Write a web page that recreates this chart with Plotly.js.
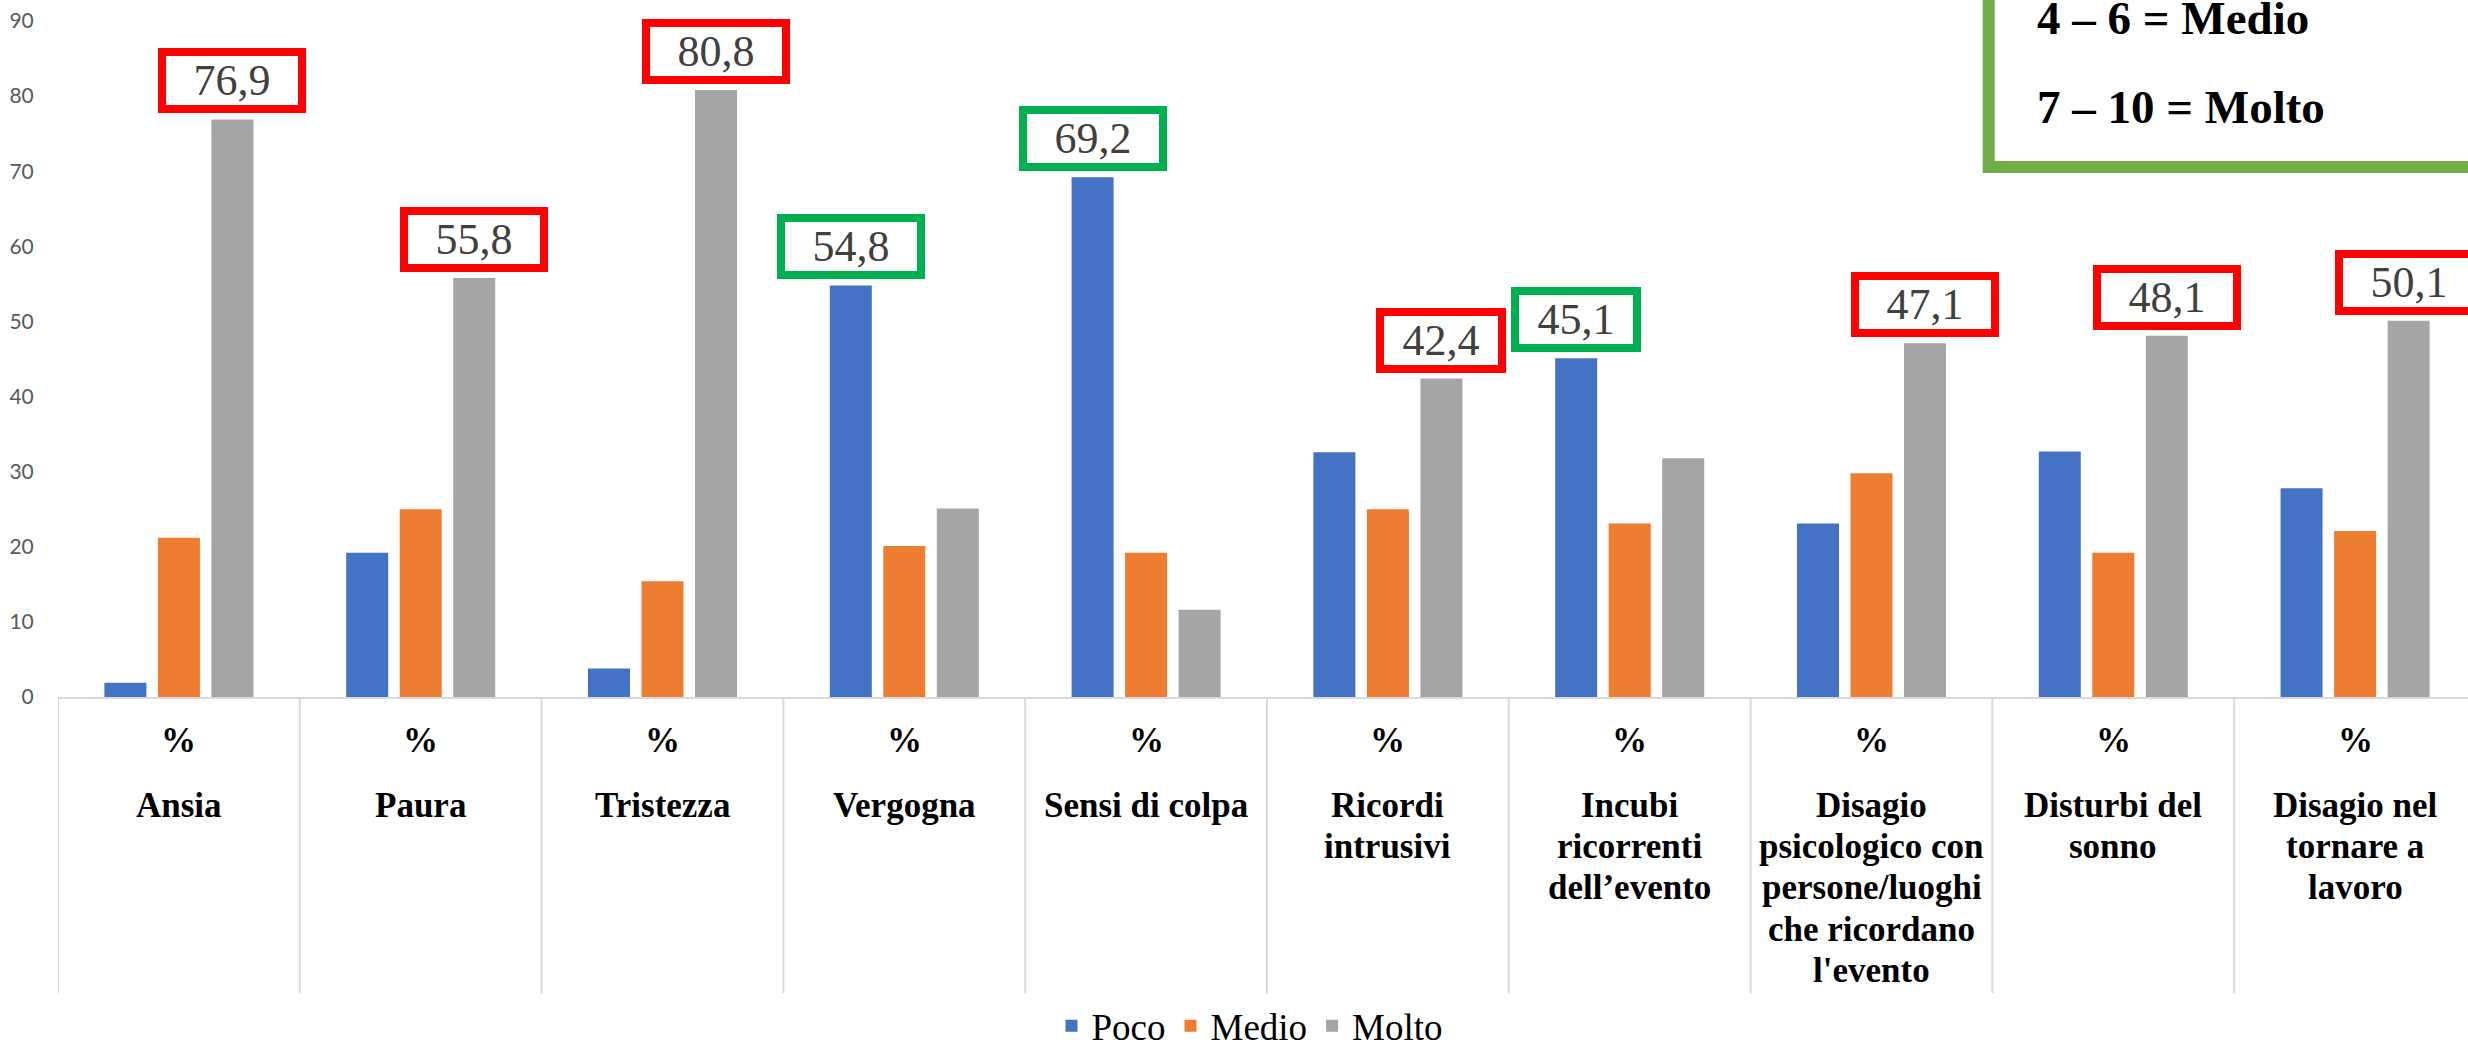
<!DOCTYPE html>
<html>
<head>
<meta charset="utf-8">
<script src="https://cdn.plot.ly/plotly-3.0.1.min.js"></script>
<style>
  html, body { margin: 0; padding: 0; background: #ffffff; }
  #chart { width: 2468px; height: 1048px; }
</style>
</head>
<body>
<div id="chart"></div>
<script>
// ---- data ----
const categories = [
  "Ansia",
  "Paura",
  "Tristezza",
  "Vergogna",
  "Sensi di colpa",
  "Ricordi<br>intrusivi",
  "Incubi<br>ricorrenti<br>dell’evento",
  "Disagio<br>psicologico con<br>persone/luoghi<br>che ricordano<br>l'evento",
  "Disturbi del<br>sonno",
  "Disagio nel<br>tornare a<br>lavoro"
];
const unitLabel = "%";
const seriesNames = ["Poco", "Medio", "Molto"];
const poco  = [1.9, 19.2, 3.8, 54.8, 69.2, 32.6, 45.1, 23.1, 32.7, 27.8];
const medio = [21.2, 25.0, 15.4, 20.1, 19.2, 25.0, 23.1, 29.8, 19.2, 22.1];
const molto = [76.9, 55.8, 80.8, 25.1, 11.6, 42.4, 31.8, 47.1, 48.1, 50.1];
const yTicks = [0, 10, 20, 30, 40, 50, 60, 70, 80, 90];
const scaleLegend = ["4 – 6 = Medio", "7 – 10 = Molto"];

// ---- styling / geometry ----
const W = 2468, H = 1048;
const L = 58, T = 21.4, B = 351, R = 0;
const plotW = W - L - R, plotH = H - T - B;
const catW = 241.8;
const xMax = -0.5 + plotW / catW;
const px2x = px => (px - L) / plotW;
const py2y = py => (H - B - py) / plotH;
const colors = ["#4472C4", "#ED7D31", "#A5A5A5"];
const boxColors = ["#00B050", "#ED7D31", "#FF0000"];
const serif = "Liberation Serif";
const series = [poco, medio, molto];
const pitch = 53.5;

const traces = series.map((vals, s) => ({
  type: "bar",
  name: seriesNames[s],
  x: categories,
  y: vals,
  marker: { color: colors[s] },
  hoverinfo: "skip"
}));

const annotations = [];
const shapes = [];

// highlighted value boxes (max series per category)
categories.forEach((c, i) => {
  let best = 0;
  for (let s = 1; s < series.length; s++) if (series[s][i] > series[best][i]) best = s;
  const v = series[best][i];
  const narrow = (i === 5 || i === 6);
  annotations.push({
    xref: "x", yref: "y", x: c, y: v,
    xshift: (best - 1) * pitch, yshift: 6,
    xanchor: "center", yanchor: "bottom",
    showarrow: false,
    text: v.toFixed(1).replace(".", ","),
    font: { family: serif, size: 44, color: "#404040" },
    bordercolor: boxColors[best], borderwidth: 8, borderpad: 0,
    bgcolor: "#ffffff",
    width: narrow ? 114 : 132, height: 49
  });
});

// category labels under the axis
categories.forEach((c, i) => {
  annotations.push({
    xref: "x", yref: "paper", x: c, y: py2y(740),
    xanchor: "center", yanchor: "middle", showarrow: false,
    text: "<b>" + unitLabel + "</b>",
    font: { family: serif, size: 35, color: "#000000" }
  });
  c.split("<br>").forEach((line, k) => {
    annotations.push({
      xref: "x", yref: "paper", x: c, y: py2y(805 + 41.3 * k),
      xanchor: "center", yanchor: "middle", showarrow: false,
      text: "<b>" + line + "</b>",
      font: { family: serif, size: 35, color: "#000000" }
    });
  });
});

// category separators
for (let i = 0; i < categories.length; i++) {
  shapes.push({
    type: "line", xref: "x", yref: "paper",
    x0: i - 0.5, x1: i - 0.5, y0: 0, y1: py2y(993),
    line: { color: "#D9D9D9", width: 2 }
  });
}

// green scale box (top right)
shapes.push({
  type: "rect", xref: "paper", yref: "paper",
  x0: px2x(1988.7), x1: px2x(2520), y0: py2y(-60), y1: py2y(167.3),
  line: { color: "#70AD47", width: 12 }, fillcolor: "rgba(0,0,0,0)"
});
const scaleCenters = [18.8, 107.8];
scaleLegend.forEach((t, k) => {
  annotations.push({
    xref: "paper", yref: "paper", x: px2x(2035), y: py2y(scaleCenters[k]),
    xanchor: "left", yanchor: "middle", showarrow: false,
    text: "<b>" + t + "</b>",
    font: { family: serif, size: 47, color: "#000000" }
  });
});

const layout = {
  width: W, height: H,
  margin: { l: L, r: R, t: T, b: B, pad: 0, autoexpand: false },
  paper_bgcolor: "#ffffff", plot_bgcolor: "#ffffff",
  barmode: "group", bargap: 0.336, bargroupgap: 0.215,
  xaxis: {
    type: "category",
    range: [-0.5, xMax],
    showticklabels: false, ticks: "",
    showgrid: false, zeroline: false,
    showline: true, linecolor: "#D9D9D9", linewidth: 2,
    fixedrange: true
  },
  yaxis: {
    range: [0, 90],
    tickmode: "array", tickvals: yTicks, ticktext: yTicks.map(String),
    ticks: "outside", ticklen: 19, tickcolor: "rgba(0,0,0,0)",
    showgrid: false, zeroline: false, showline: false,
    tickfont: { family: "Lato", size: 21, color: "#595959" },
    fixedrange: true
  },
  showlegend: true,
  legend: {
    orientation: "h",
    x: px2x(1250), xanchor: "center",
    y: py2y(1026), yanchor: "middle",
    font: { family: serif, size: 37, color: "#000000" },
    bgcolor: "rgba(0,0,0,0)"
  },
  annotations: annotations,
  shapes: shapes
};

Plotly.newPlot("chart", traces, layout, { staticPlot: true, displayModeBar: false });
</script>
</body>
</html>
